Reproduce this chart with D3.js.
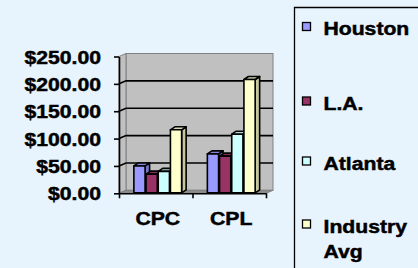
<!DOCTYPE html>
<html>
<head>
<meta charset="utf-8">
<script src="https://cdn.jsdelivr.net/npm/d3@7/dist/d3.min.js"></script>
<style>
  html, body { margin: 0; padding: 0; background: #e8f4fd; }
  svg { display: block; }
  text { font-family: "Liberation Sans", Arial, sans-serif; font-weight: bold; font-size: 17.5px; fill: #000; stroke: #000; stroke-width: 0.45px; }
</style>
</head>
<body>
<div id="chart"></div>
<script>
const categories = ['CPC', 'CPL'];
const seriesNames = ['Houston', 'L.A.', 'Atlanta', 'Industry Avg'];
const houston = [50, 72];
const la = [35, 68];
const atlanta = [40, 108];
const industryAvg = [116, 208];
const yTicks = [0, 50, 100, 150, 200, 250];
const colors = ['#9999ff', '#993366', '#ccffff', '#ffffcc'];

const seriesValues = [houston, la, atlanta, industryAvg];

const width = 418, height = 268;
// depth of the 3d walls and of the bars
const wallDx = 7, wallDy = -3;
const barDx = 4.5, barDy = -3;
const stretch = 'scale(1.21,1)';

const svg = d3.select('#chart').append('svg')
  .attr('width', width)
  .attr('height', height);

const y = d3.scaleLinear().domain([0, 250]).range([193.3, 56.5]);
const xEdge = d3.scaleLinear().domain([0, categories.length]).range([119, 266]);
const x0 = d3.scaleBand().domain(categories).range([121, 268])
  .paddingInner(0.35).paddingOuter(0.175);
const x1 = d3.scaleBand().domain(seriesNames).range([0, x0.bandwidth()]).paddingInner(0.08);

const left = xEdge.range()[0], right = xEdge.range()[1];
const y0 = y(0), yTop = y(250);

// back wall
svg.append('rect')
  .attr('x', left + wallDx).attr('y', yTop + wallDy)
  .attr('width', right - left).attr('height', y0 - yTop)
  .attr('fill', '#c0c0c0').attr('stroke', '#808080');
// side wall
svg.append('path')
  .attr('d', `M${left},${yTop}L${left + wallDx},${yTop + wallDy}L${left + wallDx},${y0 + wallDy}L${left},${y0}Z`)
  .attr('fill', '#c0c0c0').attr('stroke', '#808080');
// floor
svg.append('path')
  .attr('d', `M${left},${y0}L${right},${y0}L${right + wallDx},${y0 + wallDy}L${left + wallDx},${y0 + wallDy}Z`)
  .attr('fill', '#8c8c8c').attr('stroke', '#808080');

// gridlines
svg.selectAll('.grid')
  .data(yTicks.filter(d => d > 0 && d < 250))
  .enter().append('path')
  .attr('class', 'grid')
  .attr('d', d => `M${left},${y(d)}L${left + wallDx},${y(d) + wallDy}L${right + wallDx},${y(d) + wallDy}`)
  .attr('fill', 'none').attr('stroke', '#000').attr('stroke-width', 1.6);

// bars
const bars = [];
categories.forEach((c, ci) => {
  seriesNames.forEach((s, si) => {
    bars.push({ cat: c, name: s, value: seriesValues[si][ci], color: colors[si] });
  });
});

const bar = svg.selectAll('.bar')
  .data(bars)
  .enter().append('g')
  .attr('class', 'bar')
  .attr('stroke', '#000').attr('stroke-width', 1.6).attr('stroke-linejoin', 'round');

const bx = d => x0(d.cat) + x1(d.name);
const bw = x1.bandwidth();
const bBottom = y0 - 0.5;

bar.append('path')
  .attr('fill', d => d3.color(d.color).darker(0.7))
  .attr('d', d => {
    const xr = bx(d) + bw, yt = y(d.value);
    return `M${xr},${yt}L${xr + barDx},${yt + barDy}L${xr + barDx},${bBottom + barDy}L${xr},${bBottom}Z`;
  });
bar.append('path')
  .attr('fill', d => d3.color(d.color).darker(0.45))
  .attr('d', d => {
    const xl = bx(d), yt = y(d.value);
    return `M${xl},${yt}L${xl + barDx},${yt + barDy}L${xl + bw + barDx},${yt + barDy}L${xl + bw},${yt}Z`;
  });
bar.append('rect')
  .attr('fill', d => d.color)
  .attr('x', d => bx(d))
  .attr('y', d => y(d.value))
  .attr('width', bw)
  .attr('height', d => bBottom - y(d.value));

// y axis
svg.append('g')
  .attr('transform', `translate(${left},0)`)
  .call(d3.axisLeft(y).tickValues(yTicks).tickSize(5).tickSizeOuter(0).tickFormat(d3.format('$,.2f')))
  .call(g => g.select('.domain').attr('stroke', '#000').attr('stroke-width', 1.6))
  .call(g => g.selectAll('.tick line').attr('stroke', '#000').attr('stroke-width', 1.6))
  .call(g => g.selectAll('.tick text')
    .attr('x', null).attr('dy', null)
    .attr('font-family', null).attr('font-size', null).attr('fill', null)
    .attr('text-anchor', 'end')
    .attr('transform', `translate(-18,6.5) ${stretch}`));

// x axis, ticks between categories
svg.append('g')
  .attr('transform', `translate(0,${y0})`)
  .call(d3.axisBottom(xEdge).tickValues(d3.range(categories.length + 1)).tickSize(5).tickSizeOuter(0).tickFormat(''))
  .call(g => g.select('.domain').attr('stroke', '#000').attr('stroke-width', 1.6))
  .call(g => g.selectAll('.tick line').attr('stroke', '#000').attr('stroke-width', 1.6));

svg.selectAll('.cat-label')
  .data(categories)
  .enter().append('text')
  .attr('class', 'cat-label')
  .attr('text-anchor', 'middle')
  .attr('transform', d => `translate(${x0(d) + x0.bandwidth() / 2},224.5) ${stretch}`)
  .text(d => d);

// legend
const legendTop = [22.5, 97, 157, 220];
const legend = svg.append('g');
legend.append('path')
  .attr('d', `M${width + 2},7.5H294.5V${height + 2}`)
  .attr('fill', 'none').attr('stroke', '#000').attr('stroke-width', 1.3);

const item = legend.selectAll('.item')
  .data(seriesNames)
  .enter().append('g')
  .attr('class', 'item')
  .attr('transform', (d, i) => `translate(302.5,${legendTop[i]})`);
item.append('rect')
  .attr('width', 8).attr('height', 8)
  .attr('fill', (d, i) => colors[i])
  .attr('stroke', '#000').attr('stroke-width', 1.3);
item.append('text')
  .attr('transform', `translate(21,12.8) ${stretch}`)
  .each(function (d) {
    const words = d.split(' ');
    d3.select(this).selectAll('tspan')
      .data(words)
      .enter().append('tspan')
      .attr('x', 0)
      .attr('dy', (w, i) => i ? 25 : 0)
      .text(w => w);
  });
</script>
</body>
</html>
